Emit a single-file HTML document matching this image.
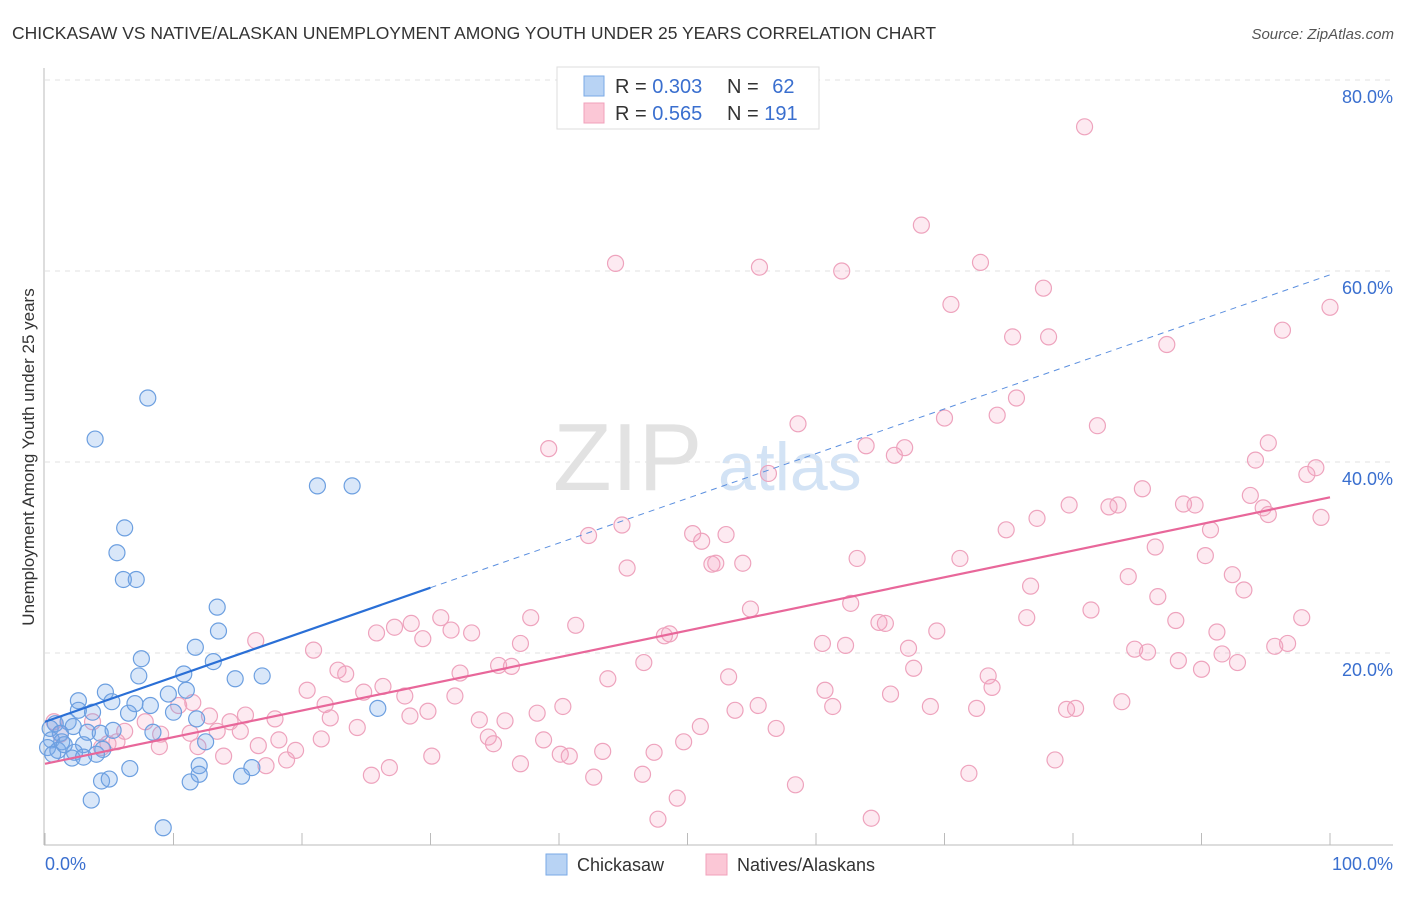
<!DOCTYPE html>
<html><head><meta charset="utf-8"><style>
body{margin:0;background:#fff;font-family:"Liberation Sans",sans-serif}
svg text{font-family:"Liberation Sans",sans-serif}
</style></head><body>
<svg id="chart" width="1406" height="892" xmlns="http://www.w3.org/2000/svg">
<text x="12" y="39" font-size="17.5" fill="#333">CHICKASAW VS NATIVE/ALASKAN UNEMPLOYMENT AMONG YOUTH UNDER 25 YEARS CORRELATION CHART</text>
<text x="1394" y="39" font-size="15" fill="#555" font-style="italic" text-anchor="end">Source: ZipAtlas.com</text>
<g><text x="553" y="490" font-size="96" fill="#e2e2e2" font-family="Liberation Serif">ZIP</text><text x="718" y="490" font-size="68" fill="#d3e3f5">atlas</text></g>
<g id="grid"></g>
<g id="axes"></g>
<g id="pts"></g>
<g id="lines"></g>
<text transform="translate(34,457) rotate(-90)" font-size="17" fill="#333" text-anchor="middle">Unemployment Among Youth under 25 years</text>
<g>
<rect x="557" y="67" width="262" height="62" fill="#fff" stroke="#ddd"/>
<rect x="584" y="76" width="20" height="20" fill="#b8d3f4" stroke="#7aaae6"/>
<rect x="584" y="103" width="20" height="20" fill="#fbc7d6" stroke="#f0a0bb"/>
<text x="615" y="93" font-size="20" fill="#333">R = <tspan fill="#3a6fcf">0.303</tspan></text>
<text x="727" y="93" font-size="20" fill="#333">N = <tspan fill="#3a6fcf" dx="8">62</tspan></text>
<text x="615" y="120" font-size="20" fill="#333">R = <tspan fill="#3a6fcf">0.565</tspan></text>
<text x="727" y="120" font-size="20" fill="#333">N = <tspan fill="#3a6fcf">191</tspan></text>
</g>
<g>
<rect x="546" y="854" width="21" height="21" fill="#b8d3f4" stroke="#7aaae6"/>
<text x="577" y="871" font-size="18" fill="#333">Chickasaw</text>
<rect x="706" y="854" width="21" height="21" fill="#fbc7d6" stroke="#f0a0bb"/>
<text x="737" y="871" font-size="18" fill="#333">Natives/Alaskans</text>
</g>
</svg>
<script>
const yTicks=[20,40,60,80];
const yTickLabels=["20.0%","40.0%","60.0%","80.0%"];
const xTicks=[0,10,20,30,40,50,60,70,80,90,100];
const blueX=[8.0,3.9,21.2,23.9,6.2,5.6,6.1,7.1,13.4,13.5,11.7,7.5,13.1,7.3,10.8,14.8,16.9,11.0,4.7,9.6,2.6,5.2,7.0,8.2,10.0,25.9,2.6,3.7,6.5,11.8,0.8,1.8,0.4,2.2,1.2,3.3,4.3,5.3,8.4,0.5,1.3,3.0,12.5,0.2,1.0,2.3,4.5,4.0,0.6,2.1,3.0,6.6,12.0,12.0,16.1,15.3,4.4,5.0,11.3,3.6,9.2,1.5];
const blueY=[46.7,42.4,37.5,37.5,33.1,30.5,27.7,27.7,24.8,22.3,20.6,19.4,19.1,17.6,17.8,17.3,17.6,16.1,15.9,15.7,15.0,14.9,14.7,14.5,13.8,14.2,14.0,13.8,13.7,13.1,12.6,12.8,12.1,12.3,11.6,11.7,11.6,11.9,11.7,10.9,10.7,10.4,10.7,10.1,9.8,9.6,9.9,9.4,9.4,9.0,9.1,7.9,8.2,7.3,8.0,7.1,6.6,6.8,6.5,4.6,1.7,10.4];
const pinkX=[80.9,68.2,44.4,55.6,72.8,62.0,77.7,70.5,100,96.3,75.3,78.1,87.3,75.6,74.1,70.0,58.6,81.9,63.9,66.9,95.2,39.2,66.1,94.2,56.3,98.9,98.2,85.4,93.8,79.7,83.5,88.6,89.5,82.8,94.8,95.2,99.3,77.2,44.9,74.8,90.7,42.3,50.4,53.0,51.1,86.4,71.2,90.3,63.2,51.9,52.2,54.3,45.3,92.4,84.3,76.7,93.3,86.6,62.7,54.9,81.4,30.8,37.8,76.4,97.8,28.5,64.9,65.4,88.0,41.3,27.2,31.6,25.8,33.2,69.4,91.2,48.6,48.2,29.4,16.4,37.0,60.5,62.3,84.8,85.8,96.7,95.7,67.2,20.9,91.6,46.6,88.2,92.8,35.3,36.3,67.6,22.8,23.4,32.3,90.0,43.8,53.2,73.4,73.7,26.3,20.4,24.8,28.0,31.9,60.7,65.8,83.8,21.8,40.3,61.3,68.9,72.5,53.7,55.5,79.5,80.2,10.4,29.8,38.3,28.4,22.2,15.6,12.8,17.9,33.8,35.8,0.7,3.7,7.8,14.4,51.0,24.3,56.9,6.2,11.3,13.4,9.0,15.2,1.2,34.5,21.5,18.2,38.8,5.6,4.9,34.9,49.7,8.9,11.9,16.6,4.4,19.5,43.4,47.4,40.1,40.8,30.1,13.9,18.8,78.6,37.0,17.2,26.8,46.5,71.9,25.4,42.7,58.4,49.2,47.7,64.3,11.5];
const pinkY=[75.1,64.8,60.8,60.4,60.9,60.0,58.2,56.5,56.2,53.8,53.1,53.1,52.3,46.7,44.9,44.6,44.0,43.8,41.7,41.5,42.0,41.4,40.7,40.2,38.8,39.4,38.7,37.2,36.5,35.5,35.5,35.6,35.5,35.3,35.2,34.5,34.2,34.1,33.4,32.9,32.9,32.3,32.5,32.4,31.7,31.1,29.9,30.2,29.9,29.3,29.4,29.4,28.9,28.2,28.0,27.0,26.6,25.9,25.2,24.6,24.5,23.7,23.7,23.7,23.7,23.1,23.2,23.1,23.4,22.9,22.7,22.4,22.1,22.1,22.3,22.2,22.0,21.8,21.5,21.3,21.0,21.0,20.8,20.4,20.1,21.0,20.7,20.5,20.3,19.9,19.0,19.2,19.0,18.7,18.6,18.4,18.2,17.8,17.9,18.3,17.3,17.5,17.6,16.4,16.5,16.1,15.9,15.5,15.5,16.1,15.7,14.9,14.6,14.4,14.4,14.4,14.2,14.0,14.5,14.1,14.2,14.5,13.9,13.7,13.4,13.2,13.5,13.4,13.1,13.0,12.9,12.8,12.8,12.8,12.8,12.3,12.2,12.1,11.8,11.6,11.8,11.5,11.8,11.5,11.2,11.0,10.9,10.9,10.7,10.5,10.5,10.7,10.2,10.2,10.3,10.1,9.8,9.7,9.6,9.4,9.2,9.2,9.2,8.8,8.8,8.4,8.2,8.0,7.3,7.4,7.2,7.0,6.2,4.8,2.6,2.7,14.8];
const blueFit=[12.8,59.6];
const pinkFit=[8.4,36.3];
const NS='http://www.w3.org/2000/svg';
const X0=45,X1=1330,Y0=844,PY=9.55;
const sx=v=>X0+(X1-X0)*v/100, sy=v=>Y0-PY*v;
function mk(tag,attrs,parent){const e=document.createElementNS(NS,tag);for(const k in attrs)e.setAttribute(k,attrs[k]);document.getElementById(parent).appendChild(e);return e;}
yTicks.forEach((t,i)=>{
 const g=mk('line',{x1:45,x2:1393,y1:sy(t),y2:sy(t),stroke:'#e2e2e2','stroke-dasharray':'5,5'},'grid');
 
 
 const l=mk('text',{x:1393,y:sy(t)+23,'font-size':18,fill:'#3a6fcf','text-anchor':'end'},'axes');
 l.textContent=yTickLabels[i];
 
 
});
mk('line',{x1:44,x2:44,y1:68,y2:845,stroke:'#bbb'},'axes');
mk('line',{x1:44,x2:1393,y1:845,y2:845,stroke:'#bbb'},'axes');
xTicks.forEach(t=>{const e=mk('line',{x1:sx(t),x2:sx(t),y1:833,y2:845,stroke:'#bbb'},'axes');
 
 });
const xl0=mk('text',{x:45,y:870,'font-size':18,fill:'#3a6fcf'},'axes');xl0.textContent='0.0%';


const xl1=mk('text',{x:1393,y:870,'font-size':18,fill:'#3a6fcf','text-anchor':'end'},'axes');xl1.textContent='100.0%';


pinkX.forEach((x,i)=>{const c=mk('circle',{cx:sx(x),cy:sy(pinkY[i]),r:8,fill:'rgba(245,160,190,0.22)',stroke:'#eea3bd','stroke-width':1.2},'pts');
 
 });
blueX.forEach((x,i)=>{const c=mk('circle',{cx:sx(x),cy:sy(blueY[i]),r:8,fill:'rgba(120,170,235,0.28)',stroke:'#6c9fe0','stroke-width':1.2},'pts');
 
 });
const bAt=x=>blueFit[0]+(blueFit[1]-blueFit[0])*x/100;
const pAt=x=>pinkFit[0]+(pinkFit[1]-pinkFit[0])*x/100;
let e=mk('line',{x1:sx(0),y1:sy(bAt(0)),x2:sx(30),y2:sy(bAt(30)),stroke:'#2a6fd6','stroke-width':2.2},'lines');


e=mk('line',{x1:sx(30),y1:sy(bAt(30)),x2:sx(100),y2:sy(bAt(100)),stroke:'#5b8fdf','stroke-width':1,'stroke-dasharray':'6,5'},'lines');


e=mk('line',{x1:sx(0),y1:sy(pAt(0)),x2:sx(100),y2:sy(pAt(100)),stroke:'#e8679a','stroke-width':2.2},'lines');


</script>
</body></html>
